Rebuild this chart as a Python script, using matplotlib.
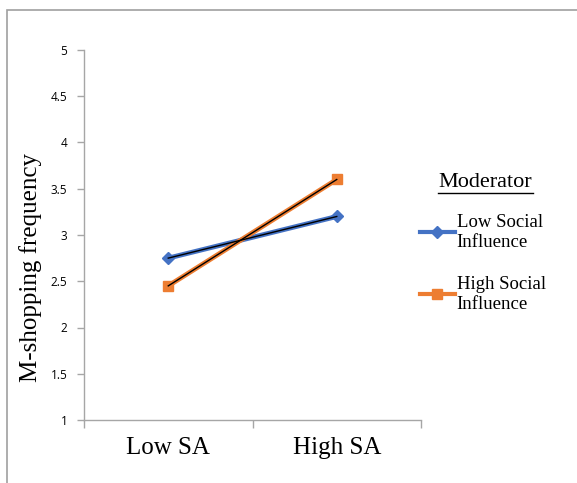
import matplotlib
matplotlib.use("Agg")
import matplotlib.pyplot as plt
from matplotlib.lines import Line2D
from matplotlib.patches import Rectangle

categories = ["Low SA", "High SA"]
series_names = ["Low Social\nInfluence", "High Social\nInfluence"]
low_si = [2.75, 3.2]
high_si = [2.45, 3.6]
y_ticks = [1, 1.5, 2, 2.5, 3, 3.5, 4, 4.5, 5]
y_tick_labels = ["1", "1.5", "2", "2.5", "3", "3.5", "4", "4.5", "5"]

blue = "#4472C4"
orange = "#ED7D31"
axis_gray = "#A6A6A6"
serif = "Liberation Serif"

W, H = 577, 483
fig = plt.figure(figsize=(W / 100, H / 100), dpi=100)
fig.patch.set_facecolor("white")
fig.patches.append(Rectangle((7 / W, -0.1), 1.2, (H - 10) / H + 0.1,
                             transform=fig.transFigure, fill=False,
                             edgecolor="#A0A0A0", lw=1.2))

ax = fig.add_axes([84 / W, 1 - 420 / H, (421 - 84) / W, (420 - 50) / H])
x = list(range(len(categories)))

ax.plot(x, low_si, color=blue, lw=3.5, marker="D", ms=6.5, solid_capstyle="round", zorder=3)
ax.plot(x, low_si, color="black", lw=1.0, zorder=4)
ax.plot(x, high_si, color=orange, lw=3.5, marker="s", ms=7.5, solid_capstyle="round", zorder=3)
ax.plot(x, high_si, color="black", lw=1.0, zorder=4)

ax.set_xlim(-0.5, len(categories) - 0.5)
ax.set_ylim(1, 5)
ax.set_yticks(y_ticks)
ax.set_yticklabels(y_tick_labels, fontfamily="Open Sans", fontsize=8.5)
ax.set_xticks(x)
ax.set_xticklabels(categories, fontfamily=serif, fontsize=18)
ax.set_xticks([i - 0.5 for i in range(len(categories) + 1)], minor=True)
ax.tick_params(axis="x", which="major", length=0, pad=12)
ax.tick_params(axis="x", which="minor", length=6, color=axis_gray, width=1)
ax.tick_params(axis="y", length=5, color=axis_gray, width=1, pad=7)

for s in ["top", "right"]:
    ax.spines[s].set_visible(False)
for s in ["left", "bottom"]:
    ax.spines[s].set_color(axis_gray)
    ax.spines[s].set_linewidth(1)

ax.set_ylabel("M-shopping frequency", fontfamily=serif, fontsize=18)
ax.yaxis.set_label_coords((42 - 84) / (421 - 84), (420 - 268) / 370)

# legend
fig.text(485 / W, 1 - 183 / H, "Moderator", fontfamily=serif, fontsize=16,
         ha="center", va="center")
fig.lines.append(Line2D([438 / W, 533 / W], [1 - 193 / H, 1 - 193 / H],
                        transform=fig.transFigure, color="black", lw=1))

handles = [Line2D([], [], color=blue, lw=3, marker="D", ms=6),
           Line2D([], [], color=orange, lw=3, marker="s", ms=7)]
leg = fig.legend(handles, series_names, loc="upper left",
                 bbox_to_anchor=(420 / W, 1 - 214 / H),
                 prop={"family": serif, "size": 13.5}, frameon=False,
                 handlelength=1.85, handletextpad=0.1, labelspacing=1.35,
                 borderaxespad=0, borderpad=0)

fig.savefig("out.png", dpi=100)
